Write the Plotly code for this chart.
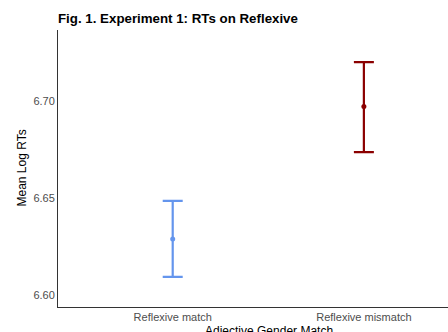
import plotly.graph_objects as go

categories = ["Reflexive match", "Reflexive mismatch"]
means = [6.6289, 6.6972]
err_plus = [0.0196, 0.0228]
err_minus = [0.0196, 0.0236]
colors = ["#6495ED", "#8B0000"]

fig = go.Figure()
for i, c in enumerate(categories):
    fig.add_trace(go.Scatter(
        x=[i + 1], y=[means[i]], mode="markers",
        marker=dict(color=colors[i], size=5),
        error_y=dict(type="data", symmetric=False, array=[err_plus[i]],
                     arrayminus=[err_minus[i]], color=colors[i],
                     thickness=2.2, width=10),
        showlegend=False,
    ))

fig.update_layout(
    width=448, height=332,
    margin=dict(l=58, r=0, t=30, b=25),
    paper_bgcolor="white", plot_bgcolor="white",
    font=dict(family="Liberation Sans, Arial, sans-serif", size=11, color="#4D4D4D"),
    title=dict(text="<b>Fig. 1. Experiment 1: RTs on Reflexive</b>", x=58/448, xanchor="left",
               y=1 - 18/332, yanchor="middle",
               font=dict(size=13.3, color="black")),
    xaxis=dict(range=[0.4, 2.44], tickvals=[1, 2], ticktext=categories,
               showgrid=False, zeroline=False, showline=True, linecolor="#333333",
               linewidth=1, ticks="", tickfont=dict(size=11, color="#4D4D4D")),
    yaxis=dict(range=[6.5938, 6.7366], tickvals=[6.60, 6.65, 6.70],
               ticktext=["6.60", "6.65", "6.70"],
               showgrid=False, zeroline=False, showline=True, linecolor="#333333",
               linewidth=1, ticks="", tickfont=dict(size=11, color="#4D4D4D")),
    annotations=[
        dict(text="Adjective Gender Match", xref="paper", yref="paper",
             x=(269 - 58) / 390, y=-24 / 277, xanchor="center", yanchor="middle",
             showarrow=False, font=dict(size=12, color="black")),
        dict(text="Mean Log RTs", xref="paper", yref="paper",
             x=-37 / 390, y=0.5, xanchor="center", yanchor="middle", textangle=-90,
             showarrow=False, font=dict(size=12, color="black")),
    ],
)

fig.write_html("out.html", config={"displayModeBar": False},
               post_script="document.body.style.margin='0';document.body.style.overflow='hidden';")
